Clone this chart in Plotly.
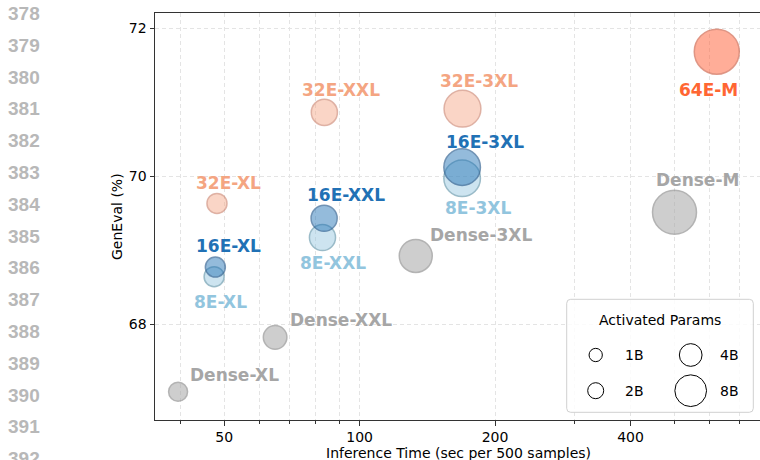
import numpy as np
import plotly.graph_objects as go

# ---------------- data ----------------
dense_names = ["Dense-XL", "Dense-XXL", "Dense-3XL", "Dense-M"]
dense_time = [39.5, 64.9, 133.3, 501]
dense_geneval = [67.085, 67.82, 68.92, 69.51]
dense_params = [0.775, 1.4, 3.1, 5.8]

e32_names = ["32E-XL", "32E-XXL", "32E-3XL"]
e32_time = [48.2, 83.5, 169.3]
e32_geneval = [69.63, 70.86, 70.91]
e32_params = [0.9, 1.8, 3.95]

e16_names = ["16E-XL", "16E-XXL", "16E-3XL"]
e16_time = [47.8, 83.4, 169.0]
e16_geneval = [68.77, 69.43, 70.12]
e16_params = [0.9, 1.8, 3.9]

e8_names = ["8E-XL", "8E-XXL", "8E-3XL"]
e8_time = [47.5, 82.7, 169.0]
e8_geneval = [68.64, 69.17, 69.97]
e8_params = [0.9, 1.8, 3.9]

e64_names = ["64E-M"]
e64_time = [622]
e64_geneval = [71.68]
e64_params = [6.1]

x_tickvals = [50, 100, 200, 400]
x_minor_tickvals = [40, 60, 70, 80, 90, 300, 500, 600, 700]
y_tickvals = [68, 70, 72]
legend_params = ["1B", "2B", "4B", "8B"]
line_numbers = list(range(378, 393))

# ---------------- layout geometry ----------------
W, H = 760, 460
L, R, T, B = 155, 760, 13, 420


def px(x):
    return (x - L) / (R - L)


def py(y):
    return (B - y) / (B - T)


def diam(p):
    return float(np.sqrt(118 + 313 * p))


FONT = "DejaVu Sans"
GRID = "#e4e4e4"
GDASH = "4px,3px"

fig = go.Figure()

groups = [
    # names, x, y, params, fill, edge, label color, label offsets (dx, dy, anchor)
    (dense_names, dense_time, dense_geneval, dense_params,
     "rgba(169,169,169,0.8)", "rgba(140,140,140,0.9)", "#a6a6a6",
     [(10, 17, "left"), (13, 17, "left"), (12, 21, "left"), (23, 32, "center")]),
    (e32_names, e32_time, e32_geneval, e32_params,
     "rgba(244,165,130,0.65)", "rgba(205,135,115,0.9)", "#f4a582",
     [(12, 20, "center"), (17, 22, "center"), (17, 28, "center")]),
    (e64_names, e64_time, e64_geneval, e64_params,
     "rgba(255,100,60,0.75)", "rgba(205,95,70,0.9)", "#ff6633",
     [(-8, -38, "center")]),
    (e8_names, e8_time, e8_geneval, e8_params,
     "rgba(146,197,222,0.65)", "rgba(100,150,170,0.9)", "#92c5de",
     [(6, -25, "center"), (11, -26, "center"), (16, -30, "center")]),
    (e16_names, e16_time, e16_geneval, e16_params,
     "rgba(33,113,181,0.68)", "rgba(40,90,140,0.9)", "#2171b5",
     [(13, 21, "center"), (22, 23, "center"), (23, 25, "center")]),
]

annotations = []
for names, xs, ys, ps, fill, edge, lab, offs in groups:
    fig.add_trace(go.Scatter(
        x=xs, y=ys, mode="markers",
        marker=dict(size=[diam(p) for p in ps], sizemode="diameter",
                    color=fill, line=dict(color=edge, width=1.5)),
        showlegend=False, hoverinfo="skip"))
    for n, xv, yv, (dx, dy, anc) in zip(names, xs, ys, offs):
        annotations.append(dict(
            x=np.log10(xv), y=yv, xref="x", yref="y", text="<b>%s</b>" % n,
            showarrow=False, xanchor=anc, yanchor="middle",
            xshift=dx, yshift=dy,
            font=dict(family=FONT, size=17, color=lab)))

# axis titles
annotations.append(dict(x=px(117), y=py(217), xref="paper", yref="paper",
                        text="GenEval (%)", textangle=-90, showarrow=False,
                        xanchor="center", yanchor="middle",
                        font=dict(family=FONT, size=14, color="#000")))
annotations.append(dict(x=px(458), y=py(453), xref="paper", yref="paper",
                        text="Inference Time (sec per 500 samples)", showarrow=False,
                        xanchor="center", yanchor="middle",
                        font=dict(family=FONT, size=14, color="#000")))

# line numbers on the left margin
for i, n in enumerate(line_numbers):
    annotations.append(dict(x=px(6), y=py(13.5 + i * 31.8), xref="paper", yref="paper",
                            text="<b>%d</b>" % n, showarrow=False,
                            xanchor="left", yanchor="middle",
                            font=dict(family="Liberation Sans, Arial", size=19,
                                      color="#b8b8b8")))

# custom size legend
shapes = []
bx0, bx1, by0, by1 = 566.7, 753.3, 299.3, 412.3
cx, cy = (bx0 + bx1) / 2, (by0 + by1) / 2
hw, hh, r = (bx1 - bx0) / 2, (by1 - by0) / 2, 4
path = (f"M {-hw + r},{-hh} L {hw - r},{-hh} Q {hw},{-hh} {hw},{-hh + r} "
        f"L {hw},{hh - r} Q {hw},{hh} {hw - r},{hh} L {-hw + r},{hh} "
        f"Q {-hw},{hh} {-hw},{hh - r} L {-hw},{-hh + r} Q {-hw},{-hh} {-hw + r},{-hh} Z")
shapes.append(dict(type="path", xref="paper", yref="paper",
                   xsizemode="pixel", ysizemode="pixel",
                   xanchor=px(cx), yanchor=py(cy), path=path,
                   fillcolor="rgba(255,255,255,0.85)",
                   line=dict(color="#d0d0d0", width=1), layer="above"))
annotations.append(dict(x=px(660), y=py(320), xref="paper", yref="paper",
                        text="Activated Params", showarrow=False,
                        xanchor="center", yanchor="middle",
                        font=dict(family=FONT, size=14, color="#000")))
leg_pos = [(595.7, 355, 634.3), (595.7, 390.7, 634.3),
           (690.7, 355, 729.3), (690.7, 390.7, 729.3)]
leg_diam = [13.3, 16, 22.7, 31.7]
for lab, (ccx, ccy, tx), d in zip(legend_params, leg_pos, leg_diam):
    shapes.append(dict(type="circle", xref="paper", yref="paper",
                       xsizemode="pixel", ysizemode="pixel",
                       xanchor=px(ccx), yanchor=py(ccy),
                       x0=-d / 2, x1=d / 2, y0=-d / 2, y1=d / 2,
                       line=dict(color="#000", width=1), layer="above"))
    annotations.append(dict(x=px(tx), y=py(ccy), xref="paper", yref="paper",
                            text=lab, showarrow=False, xanchor="center",
                            yanchor="middle",
                            font=dict(family=FONT, size=14, color="#000")))

fig.update_layout(
    width=W, height=H,
    margin=dict(l=L, r=W - R, t=T, b=H - B),
    paper_bgcolor="white", plot_bgcolor="white",
    font=dict(family=FONT, size=14, color="#000"),
    annotations=annotations, shapes=shapes,
    xaxis=dict(type="log", range=[np.log10(35.1), np.log10(776)],
               tickvals=x_tickvals, ticktext=[str(v) for v in x_tickvals],
               ticks="outside", ticklen=4.5, tickwidth=1, tickcolor="#333",
               showline=True, linecolor="#333", linewidth=1, mirror=True,
               showgrid=True, gridcolor=GRID, griddash=GDASH, gridwidth=0.8,
               minor=dict(tickvals=x_minor_tickvals, ticks="outside", ticklen=2.5,
                          tickcolor="#333", showgrid=True, gridcolor=GRID,
                          griddash=GDASH, gridwidth=0.8),
               zeroline=False, tickfont=dict(family=FONT, size=14, color="#000")),
    yaxis=dict(range=[66.703, 72.203], tickvals=y_tickvals,
               ticks="outside", ticklen=4.5, tickwidth=1, tickcolor="#333",
               showline=True, linecolor="#333", linewidth=1,
               showgrid=True, gridcolor=GRID, griddash=GDASH, gridwidth=0.8,
               zeroline=False, tickfont=dict(family=FONT, size=14, color="#000")),
)

fig.write_html(
    "out.html",
    config={"displayModeBar": False},
    post_script="document.body.style.margin='0';document.body.style.overflow='hidden';",
)
